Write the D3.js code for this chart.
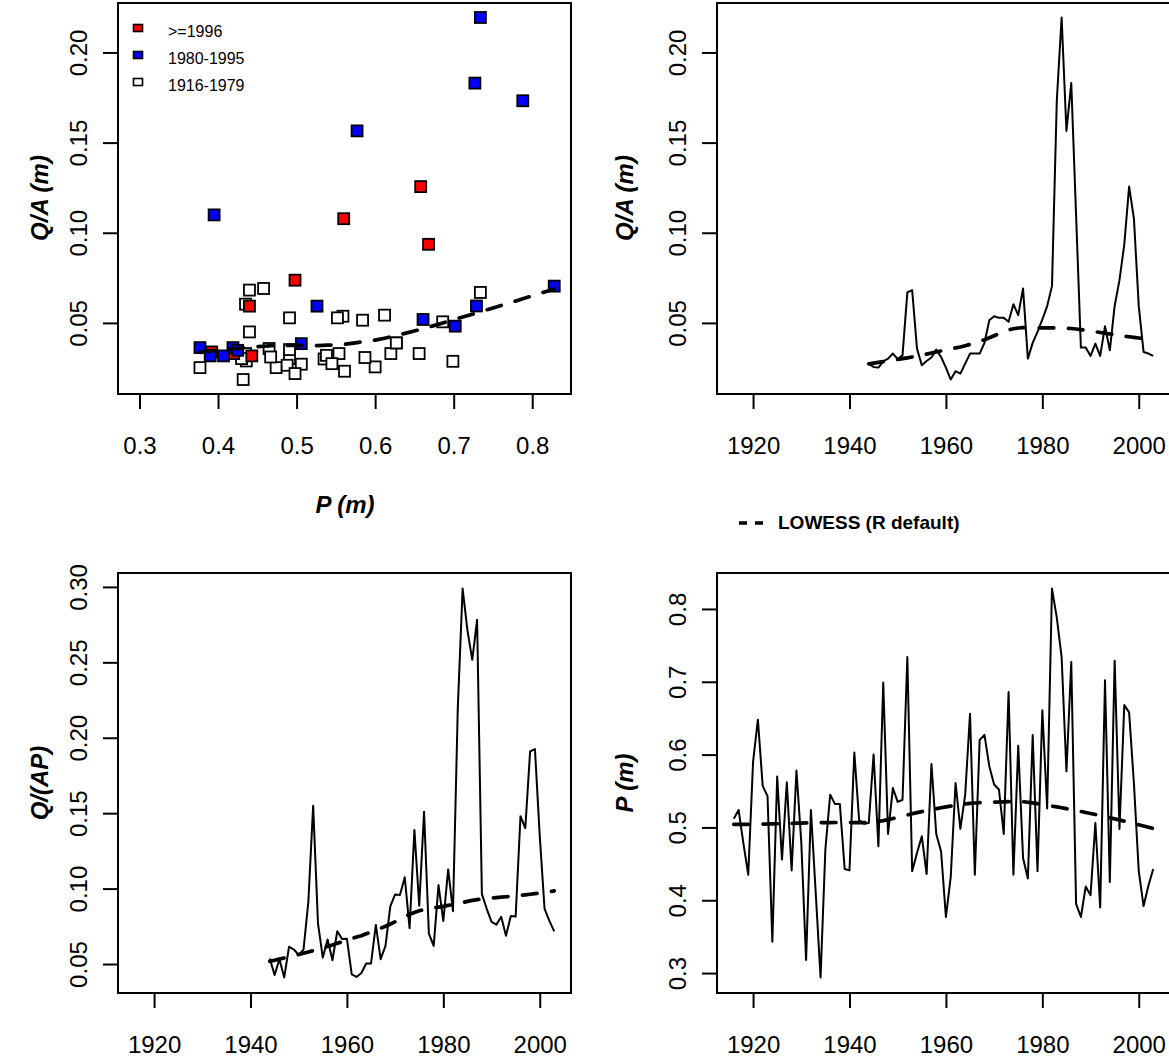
<!DOCTYPE html>
<meta charset="utf-8">
<style>
    html, body { margin: 0; padding: 0; background: #fff; }
    svg { display: block; font-family: "Liberation Sans", Arial, Helvetica, sans-serif; }
</style>
<svg id="chart" width="1169" height="1059"></svg>
<script src="https://d3js.org/d3.v7.min.js"></script>
<script>
    // annual precipitation P (m), 1916-2003
    const yearsP = [1916, 1917, 1918, 1919, 1920, 1921, 1922, 1923, 1924, 1925, 1926, 1927, 1928, 1929, 1930,
        1931, 1932, 1933, 1934, 1935, 1936, 1937, 1938, 1939, 1940, 1941, 1942, 1943, 1944, 1945, 1946, 1947,
        1948, 1949, 1950, 1951, 1952, 1953, 1954, 1955, 1956, 1957, 1958, 1959, 1960, 1961, 1962, 1963, 1964,
        1965, 1966, 1967, 1968, 1969, 1970, 1971, 1972, 1973, 1974, 1975, 1976, 1977, 1978, 1979, 1980, 1981,
        1982, 1983, 1984, 1985, 1986, 1987, 1988, 1989, 1990, 1991, 1992, 1993, 1994, 1995, 1996, 1997, 1998,
        1999, 2000, 2001, 2002, 2003];
    const precip = [0.512, 0.524, 0.478, 0.435, 0.590, 0.648, 0.557, 0.543, 0.343, 0.570, 0.456, 0.562, 0.441,
        0.578, 0.480, 0.318, 0.524, 0.410, 0.294, 0.470, 0.545, 0.532, 0.532, 0.443, 0.441, 0.603, 0.510, 0.505,
        0.506, 0.600, 0.474, 0.699, 0.491, 0.554, 0.535, 0.538, 0.734, 0.440, 0.465, 0.488, 0.436, 0.587, 0.491,
        0.467, 0.377, 0.432, 0.561, 0.498, 0.545, 0.656, 0.435, 0.620, 0.627, 0.584, 0.559, 0.552, 0.491, 0.686,
        0.435, 0.612, 0.458, 0.430, 0.627, 0.440, 0.661, 0.526, 0.828, 0.788, 0.734, 0.577, 0.727, 0.395, 0.377,
        0.419, 0.407, 0.506, 0.390, 0.702, 0.425, 0.729, 0.498, 0.668, 0.658, 0.560, 0.440, 0.392, 0.420, 0.443];

    // runoff Q/A (m) and Q/(AP), 1944-2003
    const yearsQ = [1944, 1945, 1946, 1947, 1948, 1949, 1950, 1951, 1952, 1953, 1954, 1955, 1956, 1957, 1958,
        1959, 1960, 1961, 1962, 1963, 1964, 1965, 1966, 1967, 1968, 1969, 1970, 1971, 1972, 1973, 1974, 1975,
        1976, 1977, 1978, 1979, 1980, 1981, 1982, 1983, 1984, 1985, 1986, 1987, 1988, 1989, 1990, 1991, 1992,
        1993, 1994, 1995, 1996, 1997, 1998, 1999, 2000, 2001, 2002, 2003];
    const runoff = [0.0271, 0.0256, 0.0252, 0.0287, 0.0302, 0.0330, 0.0300, 0.0320, 0.0669, 0.0682, 0.0358,
        0.0265, 0.0289, 0.0308, 0.0352, 0.0311, 0.0252, 0.0186, 0.0232, 0.0219, 0.0274, 0.0330, 0.0330, 0.0330,
        0.0389, 0.0515, 0.0537, 0.0528, 0.0528, 0.0506, 0.0604, 0.0543, 0.0691, 0.0302, 0.0389, 0.0450, 0.0519,
        0.0593, 0.0704, 0.1732, 0.2194, 0.1565, 0.1830, 0.1099, 0.0363, 0.0363, 0.0317, 0.0385, 0.0317, 0.0482,
        0.0348, 0.0594, 0.0737, 0.0936, 0.1256, 0.1078, 0.0593, 0.0339, 0.0330, 0.0317];
    const runoffRatio = [0.0536, 0.0427, 0.0532, 0.0411, 0.0615, 0.0596, 0.0561, 0.0595, 0.0911, 0.1550,
        0.0770, 0.0543, 0.0663, 0.0525, 0.0717, 0.0666, 0.0668, 0.0431, 0.0414, 0.0440, 0.0503, 0.0503, 0.0759,
        0.0532, 0.0620, 0.0882, 0.0961, 0.0957, 0.1075, 0.0738, 0.1389, 0.0887, 0.1509, 0.0702, 0.0620, 0.1023,
        0.0785, 0.1127, 0.0850, 0.2198, 0.2989, 0.2712, 0.2517, 0.2782, 0.0963, 0.0866, 0.0779, 0.0761, 0.0813,
        0.0687, 0.0819, 0.0815, 0.1480, 0.1401, 0.1909, 0.1925, 0.1348, 0.0865, 0.0786, 0.0716];

    // period legend
    const periodLabels = [">=1996", "1980-1995", "1916-1979"];
    const periodStart = [1996, 1980, 1916];
    const periodFill = ["#ff0000", "#0000ff", "#ffffff"];

    // tick values
    const pTicks = [0.3, 0.4, 0.5, 0.6, 0.7, 0.8];
    const qaTicks = [0.05, 0.10, 0.15, 0.20];
    const qapTicks = [0.05, 0.10, 0.15, 0.20, 0.25, 0.30];
    const yearTicks = [1920, 1940, 1960, 1980, 2000];

    const svg = d3.select("#chart");

    // R's lowess (clowess port), f = 2/3, iter = 3
    function lowess(xIn, yIn, f = 2 / 3, nsteps = 3) {
        const order = d3.range(xIn.length).sort((a, b) => xIn[a] - xIn[b]);
        const n = order.length;
        const x = [0].concat(order.map(i => xIn[i]));
        const y = [0].concat(order.map(i => yIn[i]));
        const delta = 0.01 * (x[n] - x[1]);
        const ys = new Array(n + 1).fill(0);
        const rw = new Array(n + 1).fill(1);
        const res = new Array(n + 1).fill(0);
        const w = new Array(n + 1).fill(0);
        const ns = Math.max(2, Math.min(n, Math.floor(f * n + 1e-7)));

        function lowest(xs, nleft, nright, userw) {
            const range = x[n] - x[1];
            const h = Math.max(xs - x[nleft], x[nright] - xs);
            const h9 = 0.999 * h, h1 = 0.001 * h;
            let a = 0, j = nleft;
            while (j <= n) {
                w[j] = 0;
                const r = Math.abs(x[j] - xs);
                if (r <= h9) {
                    w[j] = r <= h1 ? 1 : Math.pow(1 - Math.pow(r / h, 3), 3);
                    if (userw) w[j] *= rw[j];
                    a += w[j];
                } else if (x[j] > xs) break;
                j++;
            }
            const nrt = j - 1;
            if (a <= 0) return null;
            for (j = nleft; j <= nrt; j++) w[j] /= a;
            if (h > 0) {
                a = 0;
                for (j = nleft; j <= nrt; j++) a += w[j] * x[j];
                let b = xs - a, c = 0;
                for (j = nleft; j <= nrt; j++) c += w[j] * (x[j] - a) * (x[j] - a);
                if (Math.sqrt(c) > 0.001 * range) {
                    b /= c;
                    for (j = nleft; j <= nrt; j++) w[j] *= (b * (x[j] - a) + 1);
                }
            }
            let s = 0;
            for (j = nleft; j <= nrt; j++) s += w[j] * y[j];
            return s;
        }

        for (let iter = 1; iter <= nsteps + 1; iter++) {
            let nleft = 1, nright = ns, last = 0, i = 1;
            for (;;) {
                if (nright < n) {
                    const d1 = x[i] - x[nleft], d2 = x[nright + 1] - x[i];
                    if (d1 > d2) { nleft++; nright++; continue; }
                }
                const v = lowest(x[i], nleft, nright, iter > 1);
                ys[i] = v === null ? y[i] : v;
                if (last < i - 1) {
                    const denom = x[i] - x[last];
                    for (let j = last + 1; j < i; j++) {
                        const alpha = (x[j] - x[last]) / denom;
                        ys[j] = alpha * ys[i] + (1 - alpha) * ys[last];
                    }
                }
                last = i;
                const cut = x[last] + delta;
                for (i = last + 1; i <= n; i++) {
                    if (x[i] > cut) break;
                    if (x[i] === x[last]) { ys[i] = ys[last]; last = i; }
                }
                i = Math.max(last + 1, i - 1);
                if (last >= n) break;
            }
            let sc = 0;
            for (let k = 1; k <= n; k++) { res[k] = y[k] - ys[k]; sc += Math.abs(res[k]); }
            sc /= n;
            if (iter > nsteps) break;
            const sorted = res.slice(1).map(Math.abs).sort((a, b) => a - b);
            const m1 = Math.floor(n / 2);
            const cmad = n % 2 === 0 ? 3 * (sorted[m1] + sorted[n - m1 - 1]) : 6 * sorted[m1];
            if (cmad < 1e-7 * sc) break;
            for (let k = 1; k <= n; k++) {
                const r = Math.abs(res[k]);
                rw[k] = r <= 0.001 * cmad ? 1 : r <= 0.999 * cmad ? Math.pow(1 - Math.pow(r / cmad, 2), 2) : 0;
            }
        }
        return x.slice(1).map((d, k) => [d, ys[k + 1]]);
    }

    // R default axis range: data range plus 4% each side
    function rRange(vals) {
        const [a, b] = d3.extent(vals);
        const pad = (b - a) * 0.04;
        return [a - pad, b + pad];
    }

    function panel(box, xDomain, yDomain, xTicks, xFmt, yTicks, yFmt) {
        const x = d3.scaleLinear().domain(xDomain).range([box.x0, box.x1]);
        const y = d3.scaleLinear().domain(yDomain).range([box.y1, box.y0]);
        const g = svg.append("g");

        const ax = g.append("g")
            .attr("transform", `translate(0,${box.y1})`)
            .call(d3.axisBottom(x).tickValues(xTicks).tickFormat(xFmt).tickSize(15));
        ax.selectAll("text").attr("y", 60).attr("dy", null);

        const ay = g.append("g")
            .attr("transform", `translate(${box.x0},0)`)
            .call(d3.axisLeft(y).tickValues(yTicks).tickFormat(yFmt).tickSize(15));
        ay.selectAll("text")
            .attr("x", 0).attr("dy", null).attr("y", -31)
            .attr("transform", "rotate(-90)")
            .attr("text-anchor", "middle");

        g.selectAll(".domain").remove();
        g.selectAll(".tick line").attr("stroke", "#000").attr("stroke-width", 2);
        g.selectAll(".tick text").attr("fill", "#000").style("font-size", "24px")
            .style("font-family", "'Liberation Sans', Arial, sans-serif");

        g.append("rect")
            .attr("x", box.x0).attr("y", box.y0)
            .attr("width", box.x1 - box.x0).attr("height", box.y1 - box.y0)
            .attr("fill", "none").attr("stroke", "#000").attr("stroke-width", 2);

        return {g, x, y};
    }

    const dashStyle = sel => sel.attr("fill", "none").attr("stroke", "#000")
        .attr("stroke-width", 3.7).attr("stroke-dasharray", "14.6,14.6")
        .attr("stroke-linecap", "round").attr("stroke-linejoin", "round");

    const fmt2 = d3.format(".2f"), fmt1 = d3.format(".1f"), fmtYear = d3.format("d");

    const qaYearRange = rRange(runoff);
    const yearRange = rRange(yearsP);

    // ---- top left: Q/A vs P scatter ----
    const pOfQ = yearsQ.map(yr => precip[yearsP.indexOf(yr)]);
    const tl = panel({x0: 118, x1: 571, y0: 3, y1: 394}, rRange(precip), qaYearRange, pTicks, fmt1, qaTicks, fmt2);

    const pts = yearsQ.map((yr, i) => ({yr, p: pOfQ[i], q: runoff[i], k: periodStart.findIndex(s => yr >= s)}));
    const drawOrder = [2, 0, 1];
    drawOrder.forEach(k => {
        tl.g.selectAll(null).data(pts.filter(d => d.k === k)).join("rect")
            .attr("x", d => tl.x(d.p) - 5.5).attr("y", d => tl.y(d.q) - 5.5)
            .attr("width", 11).attr("height", 11)
            .attr("fill", periodFill[k]).attr("stroke", "#000").attr("stroke-width", 1.8);
    });
    tl.g.append("path").datum(lowess(pOfQ, runoff))
        .attr("d", d3.line().x(d => tl.x(d[0])).y(d => tl.y(d[1])))
        .call(dashStyle);

    const leg = tl.g.selectAll(".leg").data(periodLabels).join("g")
        .attr("transform", (d, i) => `translate(138,${28 + i * 27})`);
    leg.append("rect").attr("x", -4.5).attr("y", -3.5).attr("width", 9).attr("height", 7)
        .attr("fill", (d, i) => periodFill[i]).attr("stroke", "#000").attr("stroke-width", 1.6);
    leg.append("text").attr("x", 30).attr("y", 9).text(d => d).style("font-size", "16px");

    svg.append("text").attr("transform", "translate(48,198) rotate(-90)").attr("text-anchor", "middle")
        .style("font-size", "24px").style("font-weight", "bold").style("font-style", "italic").text("Q/A (m)");
    svg.append("text").attr("x", 345).attr("y", 513).attr("text-anchor", "middle")
        .style("font-size", "24px").style("font-weight", "bold").style("font-style", "italic").text("P (m)");

    // ---- top right: Q/A time series ----
    const tr = panel({x0: 717, x1: 1170, y0: 3, y1: 394}, yearRange, qaYearRange, yearTicks, fmtYear, qaTicks, fmt2);
    tr.g.append("path").datum(yearsQ.map((yr, i) => [yr, runoff[i]]))
        .attr("d", d3.line().x(d => tr.x(d[0])).y(d => tr.y(d[1])))
        .attr("fill", "none").attr("stroke", "#000").attr("stroke-width", 2).attr("stroke-linejoin", "round");
    tr.g.append("path").datum(lowess(yearsQ, runoff))
        .attr("d", d3.line().x(d => tr.x(d[0])).y(d => tr.y(d[1])))
        .call(dashStyle);
    svg.append("text").attr("transform", "translate(633,198) rotate(-90)").attr("text-anchor", "middle")
        .style("font-size", "24px").style("font-weight", "bold").style("font-style", "italic").text("Q/A (m)");

    // LOWESS legend
    svg.append("line").attr("x1", 739).attr("x2", 767).attr("y1", 523).attr("y2", 523)
        .attr("stroke", "#000").attr("stroke-width", 3.7).attr("stroke-dasharray", "8,8");
    svg.append("text").attr("x", 778).attr("y", 529).style("font-size", "19px").style("font-weight", "bold")
        .text("LOWESS (R default)");

    // ---- bottom left: Q/(AP) time series ----
    const bl = panel({x0: 118, x1: 571, y0: 573, y1: 993}, yearRange, rRange(runoffRatio), yearTicks, fmtYear, qapTicks, fmt2);
    bl.g.append("path").datum(yearsQ.map((yr, i) => [yr, runoffRatio[i]]))
        .attr("d", d3.line().x(d => bl.x(d[0])).y(d => bl.y(d[1])))
        .attr("fill", "none").attr("stroke", "#000").attr("stroke-width", 2).attr("stroke-linejoin", "round");
    bl.g.append("path").datum(lowess(yearsQ, runoffRatio))
        .attr("d", d3.line().x(d => bl.x(d[0])).y(d => bl.y(d[1])))
        .call(dashStyle);
    svg.append("text").attr("transform", "translate(48,783) rotate(-90)").attr("text-anchor", "middle")
        .style("font-size", "24px").style("font-weight", "bold").style("font-style", "italic").text("Q/(AP)");

    // ---- bottom right: P time series ----
    const br = panel({x0: 717, x1: 1170, y0: 573, y1: 993}, yearRange, rRange(precip), yearTicks, fmtYear, pTicks, fmt1);
    br.g.append("path").datum(yearsP.map((yr, i) => [yr, precip[i]]))
        .attr("d", d3.line().x(d => br.x(d[0])).y(d => br.y(d[1])))
        .attr("fill", "none").attr("stroke", "#000").attr("stroke-width", 2).attr("stroke-linejoin", "round");
    br.g.append("path").datum(lowess(yearsP, precip))
        .attr("d", d3.line().x(d => br.x(d[0])).y(d => br.y(d[1])))
        .call(dashStyle);
    svg.append("text").attr("transform", "translate(633,783) rotate(-90)").attr("text-anchor", "middle")
        .style("font-size", "24px").style("font-weight", "bold").style("font-style", "italic").text("P (m)");
</script>
